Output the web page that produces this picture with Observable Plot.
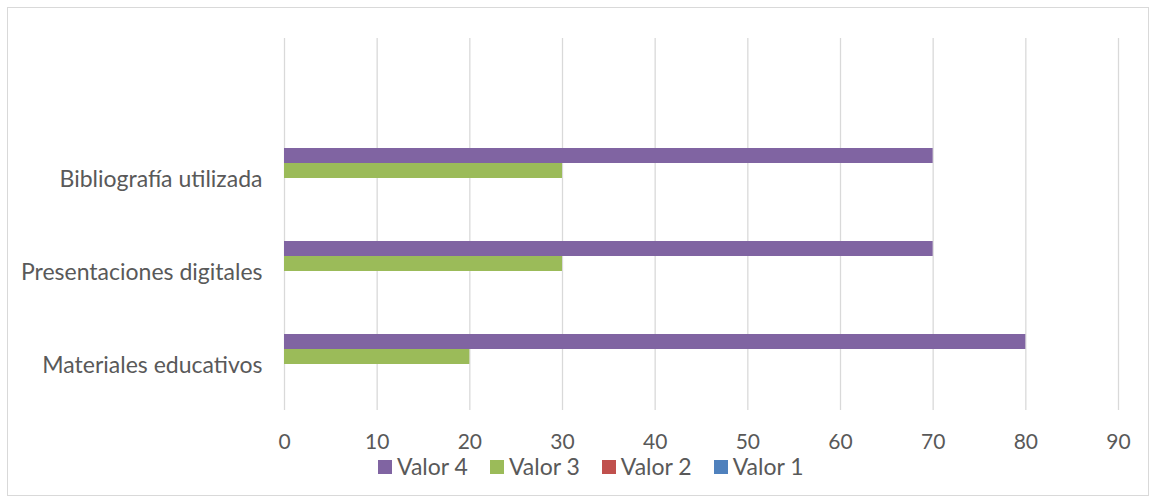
<!DOCTYPE html>
<html>
<head>
<meta charset="utf-8">
<script src="https://cdn.jsdelivr.net/npm/d3@7"></script>
<script src="https://cdn.jsdelivr.net/npm/@observablehq/plot@0.6"></script>
<style>
  html, body { margin: 0; padding: 0; background: #fff; }
  #wrap { position: relative; width: 1153px; height: 499px; overflow: hidden; }
  #frame { position: absolute; left: 7px; top: 7px; width: 1142px; height: 489px; border: 1px solid #d9d9d9; box-sizing: border-box; }
  #chart { position: absolute; left: 0; top: 0; }
  #legend { position: absolute; left: 378px; top: 450px; }
  .lg-swatches { min-height: 33px; line-height: 1 !important; }
  .lg-swatch { margin-right: 22px !important; line-height: 1 !important; }
  .lg-swatch > svg { margin-right: 5px !important; }
</style>
</head>
<body>
<div id="wrap">
  <div id="frame"></div>
  <div id="chart"></div>
  <div id="legend"></div>
</div>
<script>
// Categories (top to bottom); the first is an empty slot as in the reference
const categories = ["", "Bibliografía utilizada", "Presentaciones digitales", "Materiales educativos"];
// Series order inside a group (top to bottom)
const seriesOrder = ["Valor 4", "Valor 3", "Valor 2", "Valor 1"];
const seriesColors = ["#8064a2", "#9bbb59", "#c0504d", "#4f81bd"];
// Values per category (Bibliografía, Presentaciones, Materiales)
const dataCategories = ["Bibliografía utilizada", "Presentaciones digitales", "Materiales educativos"];
const valor4 = [70, 70, 80];
const valor3 = [30, 30, 20];
const valor2 = [0, 0, 0];
const valor1 = [0, 0, 0];
const xTicks = [0, 10, 20, 30, 40, 50, 60, 70, 80, 90];

const seriesValues = {"Valor 4": valor4, "Valor 3": valor3, "Valor 2": valor2, "Valor 1": valor1};
const rows = [];
dataCategories.forEach((c, i) => {
  seriesOrder.forEach(s => rows.push({category: c, series: s, value: seriesValues[s][i]}));
});
const gridRows = categories.flatMap(c => xTicks.map(t => ({category: c, tick: t})));

const textColor = "#595959";
const font = "Lato, 'Open Sans', sans-serif";

const chart = Plot.plot({
  width: 1153,
  height: 455,
  marginLeft: 284,
  marginRight: 35,
  marginTop: 38,
  marginBottom: 45,
  style: {fontFamily: font, fontSize: "21px", color: textColor, background: "transparent"},
  x: {domain: [0, 90], ticks: xTicks, label: null},
  fy: {domain: categories, padding: 0, label: null},
  y: {domain: seriesOrder, paddingInner: 0, paddingOuter: 1.1, axis: null},
  color: {domain: seriesOrder, range: seriesColors},
  marks: [
    Plot.ruleX(gridRows, {x: "tick", fy: "category", stroke: "#d9d9d9", strokeWidth: 1.3}),
    Plot.barX(rows, {x: "value", y: "series", fy: "category", fill: "series"}),
    Plot.axisX({ticks: xTicks, tickSize: 0, tickPadding: 24, fill: textColor, fontSize: 21}),
    Plot.axisFy({anchor: "left", tickSize: 0, tickPadding: 22, fill: textColor, label: null, fontSize: 23, dy: 2})
  ]
});
document.getElementById("chart").appendChild(chart);

const legend = Plot.legend({
  color: {domain: seriesOrder, range: seriesColors},
  swatchSize: 14,
  className: "lg",
  style: {fontFamily: font, fontSize: "23px", color: textColor}
});
document.getElementById("legend").appendChild(legend);
</script>
</body>
</html>
